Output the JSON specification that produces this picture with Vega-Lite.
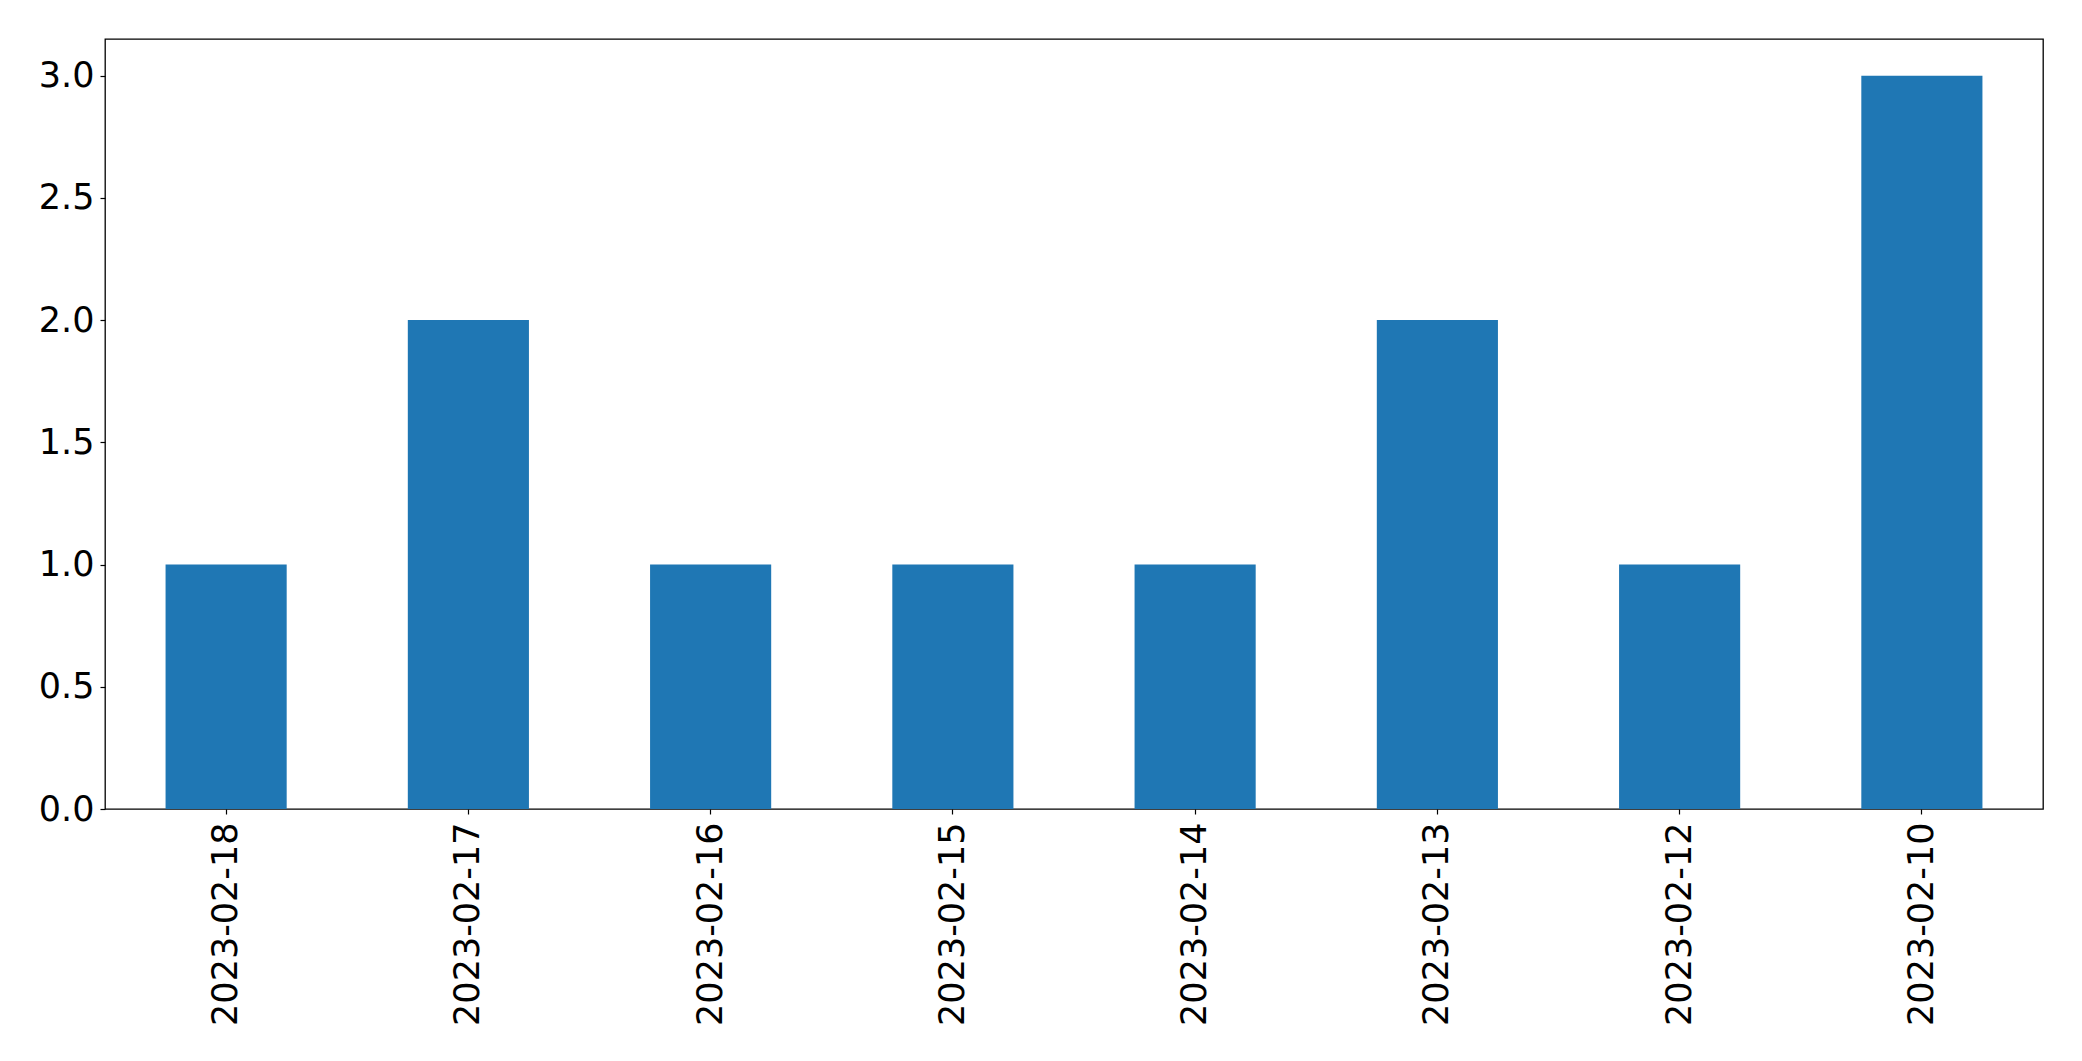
{
  "$schema": "https://vega.github.io/schema/vega-lite/v6.json",
  "width": 1938,
  "height": 770,
  "autosize": {"type": "none"},
  "padding": {"left": 105, "top": 39, "right": 39, "bottom": 252},
  "background": "white",
  "data": {
    "values": [
      {"date": "2023-02-18", "count": 1},
      {"date": "2023-02-17", "count": 2},
      {"date": "2023-02-16", "count": 1},
      {"date": "2023-02-15", "count": 1},
      {"date": "2023-02-14", "count": 1},
      {"date": "2023-02-13", "count": 2},
      {"date": "2023-02-12", "count": 1},
      {"date": "2023-02-10", "count": 3}
    ]
  },
  "config": {
    "view": {"stroke": "black", "strokeWidth": 1.3},
    "font": "DejaVu Sans",
    "axis": {
      "grid": false,
      "domain": false,
      "tickColor": "black",
      "tickSize": 5,
      "tickWidth": 1.2,
      "labelColor": "black",
      "labelFont": "DejaVu Sans",
      "labelFontSize": 35,
      "labelLimit": 0,
      "title": null
    }
  },
  "mark": {"type": "bar", "color": "#1f77b4"},
  "encoding": {
    "x": {
      "field": "date",
      "type": "nominal",
      "sort": null,
      "scale": {"paddingInner": 0.5, "paddingOuter": 0.25},
      "axis": {"labelAngle": -90, "labelPadding": 8, "labelAlign": "right", "labelBaseline": "middle"}
    },
    "y": {
      "field": "count",
      "type": "quantitative",
      "scale": {"domain": [0, 3.15], "nice": false},
      "axis": {"values": [0, 0.5, 1, 1.5, 2, 2.5, 3], "format": ".1f", "labelPadding": 6}
    }
  }
}
